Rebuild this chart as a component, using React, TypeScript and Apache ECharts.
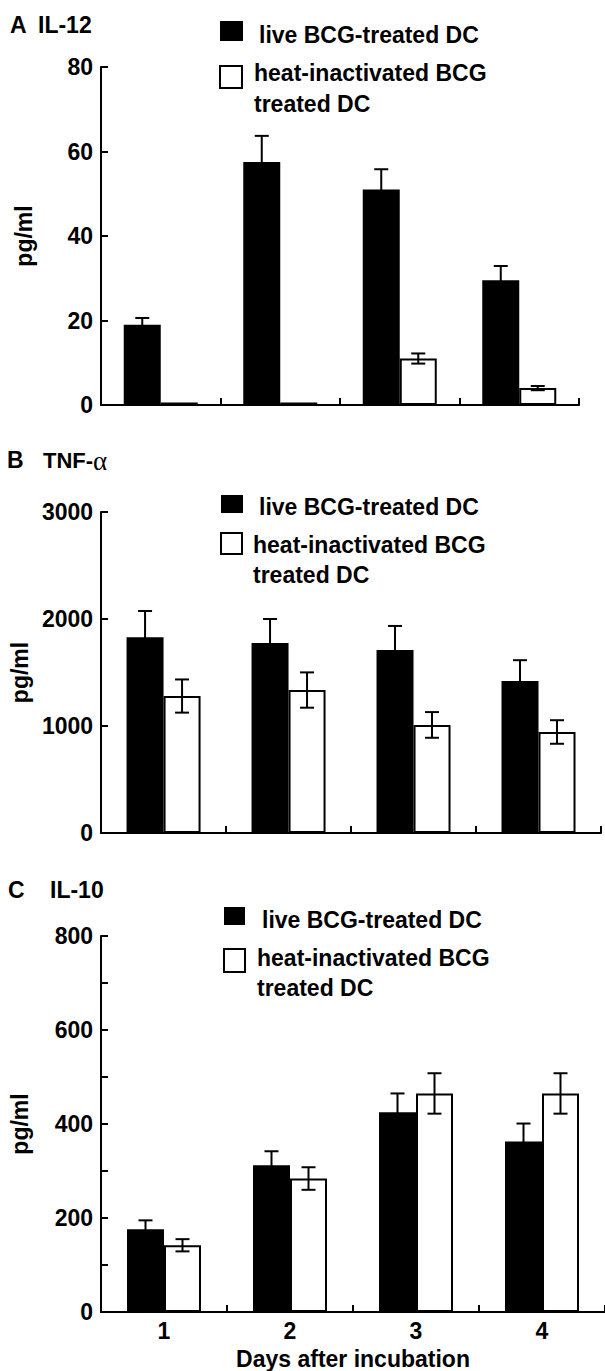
import React, { useEffect, useRef } from "react";
import * as echarts from "echarts";

const days = ["1", "2", "3", "4"];

// Panel A: IL-12 (pg/ml)
const il12Live = [19, 57.5, 51, 29.5];
const il12LiveErr = [1.6, 6.2, 4.8, 3.4];
const il12Heat = [0.6, 0.6, 11, 4];
const il12HeatErr = [0, 0, 1.2, 0.5];

// Panel B: TNF-alpha (pg/ml)
const tnfLive = [1830, 1775, 1710, 1420];
const tnfLiveErr = [245, 225, 225, 195];
const tnfHeat = [1280, 1336, 1010, 944];
const tnfHeatErr = [155, 165, 120, 110];

// Panel C: IL-10 (pg/ml)
const il10Live = [176, 312, 425, 363];
const il10LiveErr = [19, 30, 40, 38];
const il10Heat = [142, 284, 465, 465];
const il10HeatErr = [13, 24, 43, 43];

const FONT = "'Liberation Sans', Arial, Helvetica, sans-serif";
const SERIF = "'Liberation Serif', 'DejaVu Serif', serif";
const BAR_W = 37;
const FS = 23;

function errData(vals: number[], errs: number[]) {
  return vals.map((v, i) => [i, v, errs[i]]);
}

function makeErr(side: number, color: string) {
  return (params: any, api: any) => {
    const idx = api.value(0);
    const mean = api.value(1);
    const err = api.value(2);
    if (!err) return null;
    const top = api.coord([idx, mean + err]);
    const bot = api.coord([idx, mean - err]);
    const x = top[0] + side * (BAR_W / 2);
    const cap = 7;
    const ls = { stroke: color, lineWidth: 2 };
    return {
      type: "group",
      children: [
        { type: "line", shape: { x1: x, y1: top[1], x2: x, y2: bot[1] }, style: ls },
        { type: "line", shape: { x1: x - cap, y1: top[1], x2: x + cap, y2: top[1] }, style: ls },
        { type: "line", shape: { x1: x - cap, y1: bot[1], x2: x + cap, y2: bot[1] }, style: ls },
      ],
    };
  };
}

export default function App() {
  const ref = useRef<HTMLDivElement>(null);
  useEffect(() => {
    if (!ref.current) return;
    const chart = echarts.init(ref.current, null, { renderer: "svg" });

    const grids = [
      { left: 101, right: 26, top: 67, bottom: 966 },
      { left: 97, right: 4, top: 512, bottom: 538 },
      { left: 96, right: -8, top: 936, bottom: 58 },
    ];
    const yCfg = [
      { max: 80, interval: 20, gap: 66 },
      { max: 3000, interval: 1000, gap: 68 },
      { max: 800, interval: 200, gap: 70 },
    ];
    const axisLine = { show: true, lineStyle: { color: "#000", width: 2 } };
    const tick = { show: true, inside: true, length: 7, lineStyle: { color: "#000", width: 2 } };

    const xAxis = grids.map((g, i) => ({
      type: "category",
      gridIndex: i,
      data: days,
      axisLine,
      axisTick: { ...tick, alignWithLabel: false },
      axisLabel: {
        show: i === 2,
        color: "#000",
        fontFamily: FONT,
        fontWeight: "bold",
        fontSize: FS,
        margin: 7,
      },
      name: i === 2 ? "Days after incubation" : "",
      nameLocation: "middle",
      nameGap: 35,
      nameTextStyle: { color: "#000", fontFamily: FONT, fontWeight: "bold", fontSize: FS },
    }));

    const yAxis = yCfg.map((c, i) => ({
      type: "value",
      gridIndex: i,
      min: 0,
      max: c.max,
      interval: c.interval,
      axisLine,
      axisTick: tick,
      minorTick:
        i === 2
          ? { show: true, splitNumber: 2, length: 7, lineStyle: { color: "#000", width: 2 } }
          : { show: false },
      splitLine: { show: false },
      axisLabel: {
        color: "#000",
        fontFamily: FONT,
        fontWeight: "bold",
        fontSize: FS,
        margin: 8,
        formatter: (v: number) => String(v),
      },
      name: "pg/ml",
      nameLocation: "middle",
      nameRotate: 90,
      nameGap: c.gap,
      nameTextStyle: { color: "#000", fontFamily: FONT, fontWeight: "bold", fontSize: FS },
    }));

    const panels = [
      [il12Live, il12LiveErr, il12Heat, il12HeatErr],
      [tnfLive, tnfLiveErr, tnfHeat, tnfHeatErr],
      [il10Live, il10LiveErr, il10Heat, il10HeatErr],
    ];

    const series: any[] = [];
    panels.forEach((p, i) => {
      series.push({
        type: "bar",
        name: "live BCG-treated DC",
        xAxisIndex: i,
        yAxisIndex: i,
        data: p[0],
        barWidth: BAR_W,
        barGap: "0%",
        itemStyle: { color: "#000" },
      });
      series.push({
        type: "bar",
        name: "heat-inactivated BCG treated DC",
        xAxisIndex: i,
        yAxisIndex: i,
        data: p[2],
        barWidth: BAR_W,
        barGap: "0%",
        itemStyle: { color: "#fff", borderColor: "#000", borderWidth: 2 },
      });
      series.push({
        type: "custom",
        xAxisIndex: i,
        yAxisIndex: i,
        data: errData(p[0], p[1]),
        renderItem: makeErr(-1, "#000"),
        encode: { x: 0, y: 1 },
        z: 5,
      });
      series.push({
        type: "custom",
        xAxisIndex: i,
        yAxisIndex: i,
        data: errData(p[2], p[3]),
        renderItem: makeErr(1, "#000"),
        encode: { x: 0, y: 1 },
        z: 5,
      });
    });

    const txt = (text: string, x: number, y: number, size = FS, family = FONT, weight = "bold") => ({
      type: "text",
      x,
      y,
      style: {
        text,
        fill: "#000",
        fontFamily: family,
        fontSize: size,
        fontWeight: weight,
        verticalAlign: "middle",
        align: "left",
      },
    });
    const box = (x: number, y: number, w: number, h: number, filled: boolean) => ({
      type: "rect",
      shape: { x, y, width: w, height: h },
      style: filled ? { fill: "#000" } : { fill: "#fff", stroke: "#000", lineWidth: 2 },
    });

    const graphic = [
      txt("A", 10, 25),
      txt("IL-12", 38, 25),
      box(220, 21, 23, 20, true),
      txt("live BCG-treated DC", 259, 35),
      box(220, 66, 22, 22, false),
      txt("heat-inactivated BCG", 254, 73),
      txt("treated DC", 254, 104),

      txt("B", 7, 460, 23),
      txt("TNF-", 43, 460, 22),
      txt("α", 93, 461, 27, SERIF, "normal"),
      box(221, 495, 22, 18, true),
      txt("live BCG-treated DC", 259, 507),
      box(221, 533, 21, 21, false),
      txt("heat-inactivated BCG", 253, 545),
      txt("treated DC", 253, 575),

      txt("C", 8, 890),
      txt("IL-10", 50, 890),
      box(224, 907, 21, 18, true),
      txt("live BCG-treated DC", 262, 920),
      box(224, 949, 21, 23, false),
      txt("heat-inactivated BCG", 257, 958),
      txt("treated DC", 257, 988),
    ];

    chart.setOption({
      animation: false,
      backgroundColor: "#fff",
      grid: grids,
      xAxis,
      yAxis,
      series,
      graphic,
    });
    return () => chart.dispose();
  }, []);

  return (
    <div
      ref={ref}
      style={{ position: "absolute", left: 0, top: 0, width: 605, height: 1371, background: "#fff" }}
    />
  );
}
